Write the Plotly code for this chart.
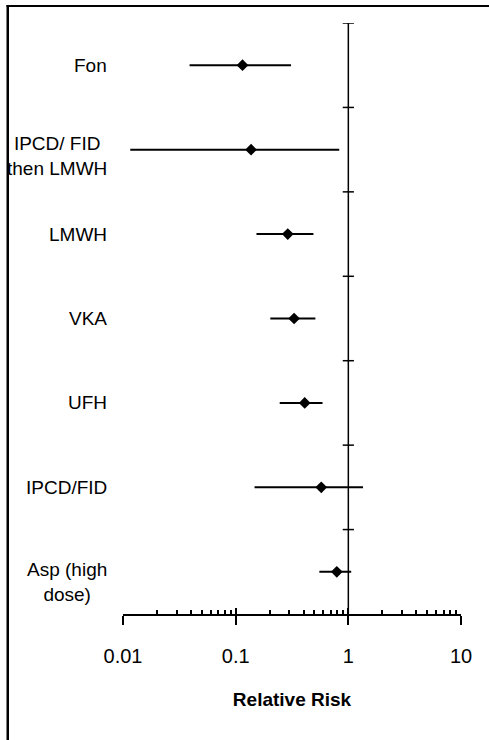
import plotly.graph_objects as go

categories = ["Fon", "IPCD/ FID<br>then LMWH", "LMWH", "VKA", "UFH", "IPCD/FID", "Asp (high<br>dose)"]
rr = [0.115, 0.137, 0.29, 0.33, 0.41, 0.575, 0.79]
ci_low = [0.039, 0.0116, 0.153, 0.203, 0.246, 0.147, 0.553]
ci_high = [0.31, 0.83, 0.49, 0.51, 0.59, 1.35, 1.06]
x_ticks = [0.01, 0.1, 1, 10]
x_tick_labels = ["0.01", "0.1", "1", "10"]

# small vertical nudges of the multi-line labels (styling only)
label_yshift = [0, -6, 0, 0, 0, 0, -10]

n = len(categories)
ypos = [i + 0.5 for i in range(n)]
err_plus = [h - v for h, v in zip(ci_high, rr)]
err_minus = [v - l for v, l in zip(rr, ci_low)]

FONT = "Liberation Sans, Arial, sans-serif"
W, H = 489, 740
ML, MR, MT, MB = 123, 28, 23, 126
PW, PH = W - ML - MR, H - MT - MB

fig = go.Figure()

# reference line at RR = 1 with category separator ticks
fig.add_trace(go.Scatter(x=[1, 1], y=[0, n], mode="lines",
                         line=dict(color="black", width=1.5), hoverinfo="skip", showlegend=False))
fig.add_trace(go.Scatter(x=[1] * n, y=list(range(n)), mode="markers",
                         marker=dict(symbol="line-ew", size=8, line=dict(color="black", width=1.5)),
                         hoverinfo="skip", showlegend=False))

fig.add_trace(go.Scatter(
    x=rr, y=ypos, mode="markers",
    marker=dict(symbol="diamond", size=9, color="black"),
    error_x=dict(type="data", symmetric=False, array=err_plus, arrayminus=err_minus,
                 color="black", thickness=2, width=0),
    showlegend=False))

# invisible trace to activate overlay axis
fig.add_trace(go.Scatter(x=[1], y=[n], xaxis="x2", mode="markers",
                         marker=dict(opacity=0), hoverinfo="skip", showlegend=False))

minor_vals = [m * d for d in [0.01, 0.1, 1] for m in range(2, 10)]

fig.update_layout(
    width=W, height=H,
    margin=dict(l=ML, r=MR, t=MT, b=MB),
    paper_bgcolor="white", plot_bgcolor="white",
    font=dict(family=FONT, color="black"),
    xaxis=dict(type="log", range=[-2, 1], tickvals=x_ticks, ticktext=x_tick_labels,
               showline=True, linecolor="black", linewidth=2, showgrid=False, zeroline=False,
               ticks="outside", ticklen=9, tickwidth=1.5, tickcolor="black",
               ticklabelstandoff=14, tickfont=dict(size=20, family=FONT),
               minor=dict(tickvals=minor_vals, ticks="inside", ticklen=4, tickwidth=1.5,
                          tickcolor="black", showgrid=False),
               title=dict(text="<b>Relative Risk</b>", font=dict(size=19, family=FONT), standoff=27)),
    xaxis2=dict(type="log", range=[-2, 1], overlaying="x", anchor="y", side="bottom",
                tickvals=x_ticks, showticklabels=False, ticks="inside", ticklen=6, tickwidth=1.5,
                tickcolor="black", showgrid=False, zeroline=False, showline=False),
    yaxis=dict(range=[n, 0], showticklabels=False, showgrid=False, zeroline=False,
               showline=False, ticks=""),
)

for i, lab in enumerate(categories):
    fig.add_annotation(x=0, xref="paper", y=ypos[i], yref="y", text=lab,
                       xanchor="right", yanchor="middle", align="center", xshift=-14,
                       yshift=label_yshift[i],
                       showarrow=False, font=dict(size=19, family=FONT, color="black"))


def py(px):
    return 1 + (MT - px) / PH


def px_x(px):
    return (px - ML) / PW


# outer border: left edge and top edge (top drawn in short segments)
fig.add_shape(type="line", xref="paper", yref="paper", x0=px_x(7.5), x1=px_x(7.5),
              y0=py(5), y1=py(740), line=dict(color="black", width=2), layer="above")
for a, b in [(6.5, 123), (123, 240), (240, 360), (360, 489)]:
    fig.add_shape(type="line", xref="paper", yref="paper", x0=px_x(a), x1=px_x(b),
                  y0=py(6), y1=py(6), line=dict(color="black", width=2), layer="above")

post = (
    "document.body.style.margin='0px';"
    "document.body.style.overflow='hidden';"
    "var b=document.createElement('div');"
    "b.style.cssText='position:absolute;left:6.5px;top:5px;width:482.5px;height:735px;"
    "box-sizing:border-box;border-top:2px solid black;border-left:2px solid black;"
    "pointer-events:none;z-index:10;';"
    "document.body.appendChild(b);"
)

fig.write_html("out.html", config={"displayModeBar": False}, post_script=post)
